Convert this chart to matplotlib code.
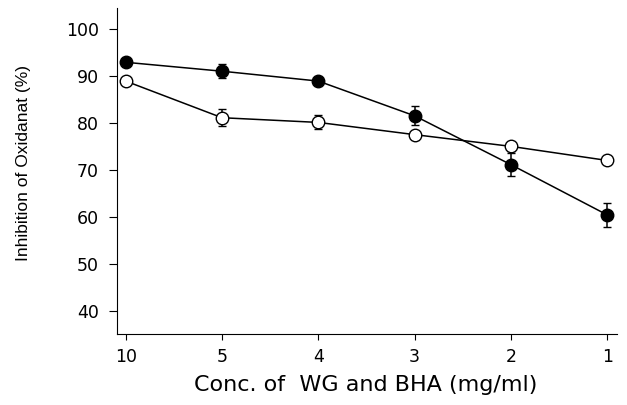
import matplotlib
matplotlib.use("Agg")
import matplotlib.pyplot as plt
import numpy as np

conc_labels = ['10', '5', '4', '3', '2', '1']
wg_values = [92.9, 91.0, 88.9, 81.5, 71.1, 60.4]
wg_err = [0.5, 1.5, 0.3, 2.0, 2.5, 2.5]
bha_values = [88.9, 81.1, 80.1, 77.5, 75.0, 72.0]
bha_err = [0.4, 1.8, 1.5, 0.6, 0.9, 0.3]

plt.rcParams['font.family'] = ['DejaVu Sans']

fig = plt.figure(figsize=(6.27, 4.05), dpi=100)
ax = fig.add_axes([0.1866, 0.1746, 0.7974, 0.805])

x = np.arange(len(conc_labels))
ax.errorbar(x, wg_values, yerr=wg_err, fmt='o-', color='black', markerfacecolor='black',
            markersize=9, linewidth=1.1, capsize=3, elinewidth=1.1, zorder=3)
ax.errorbar(x, bha_values, yerr=bha_err, fmt='o-', color='black', markerfacecolor='white',
            markersize=9, linewidth=1.1, capsize=3, elinewidth=1.1, zorder=4)

ax.set_xlim(-0.09, 5.1)
ax.set_ylim(35, 104.4)
ax.set_xticks(x)
ax.set_xticklabels(conc_labels, fontsize=12.5)
ax.set_yticks([40, 50, 60, 70, 80, 90, 100])
ax.tick_params(axis='y', labelsize=12.5, length=6, pad=7)
ax.tick_params(axis='x', length=4, pad=6)
for s in ['top', 'right']:
    ax.spines[s].set_visible(False)

fig.text(24 / 627, 1 - 163 / 405, 'Inhibition of Oxidanat (%)', rotation=90,
         ha='center', va='center', fontsize=12.5, family=['Liberation Sans'])
fig.text(366 / 627, 1 - 385 / 405, 'Conc. of  WG and BHA (mg/ml)',
         ha='center', va='center', fontsize=16)

fig.savefig('out.png', dpi=100)
